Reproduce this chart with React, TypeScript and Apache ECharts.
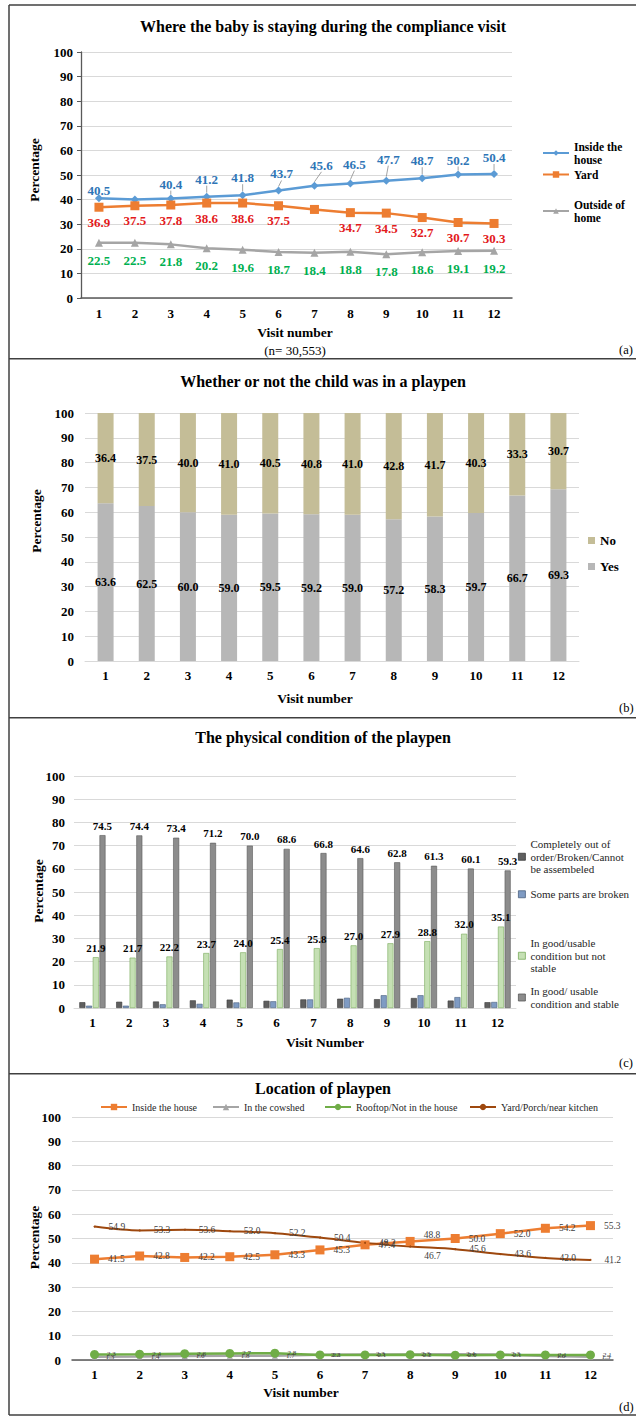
import React, { useEffect, useRef } from 'react';
import * as echarts from 'echarts';

// ---------- data ----------
const visits = ['1', '2', '3', '4', '5', '6', '7', '8', '9', '10', '11', '12'];

// (a) Where the baby is staying
const insideHouseA = [40.5, 40.0, 40.4, 41.2, 41.8, 43.7, 45.6, 46.5, 47.7, 48.7, 50.2, 50.4];
const yardA = [36.9, 37.5, 37.8, 38.6, 38.6, 37.5, 36.0, 34.7, 34.5, 32.7, 30.7, 30.3];
const outsideA = [22.5, 22.5, 21.8, 20.2, 19.6, 18.7, 18.4, 18.8, 17.8, 18.6, 19.1, 19.2];
const hiddenInsideLabel = [1];
const hiddenYardLabel = [6];

// (b) Whether or not the child was in a playpen
const playpenNo = [36.4, 37.5, 40.0, 41.0, 40.5, 40.8, 41.0, 42.8, 41.7, 40.3, 33.3, 30.7];
const playpenYes = [63.6, 62.5, 60.0, 59.0, 59.5, 59.2, 59.0, 57.2, 58.3, 59.7, 66.7, 69.3];

// (c) Physical condition of the playpen
const condBroken = [2.5, 2.7, 2.8, 3.3, 3.6, 3.1, 3.7, 4.0, 3.8, 4.3, 3.2, 2.5];
const condSomeBroken = [1.0, 1.0, 1.6, 1.8, 2.4, 2.9, 3.7, 4.4, 5.5, 5.5, 4.7, 2.6];
const condNotStable = [21.9, 21.7, 22.2, 23.7, 24.0, 25.4, 25.8, 27.0, 27.9, 28.8, 32.0, 35.1];
const condStable = [74.5, 74.4, 73.4, 71.2, 70.0, 68.6, 66.8, 64.6, 62.8, 61.3, 60.1, 59.3];

// (d) Location of playpen
const locInside = [41.5, 42.8, 42.2, 42.5, 43.3, 45.3, 47.4, 48.8, 50.0, 52.0, 54.2, 55.3];
const locCowshed = [1.3, 1.4, 1.6, 1.8, 1.7, 2.2, 2.3, 2.3, 2.4, 2.3, 1.6, 1.3];
const locRooftop = [2.3, 2.4, 2.6, 2.7, 2.8, 2.1, 2.1, 2.2, 2.0, 2.1, 2.1, 2.1];
const locYard = [54.9, 53.3, 53.6, 53.0, 52.2, 50.4, 48.2, 46.7, 45.6, 43.6, 42.0, 41.2];

// ---------- helpers ----------
const FONT = "'Liberation Serif', 'Times New Roman', Times, serif";
const BORDER = '#404040';

const text = (t: string, x: number, y: number, font: string, extra: any = {}) => ({
  type: 'text',
  x,
  y,
  rotation: extra.rotation || 0,
  silent: true,
  style: {
    text: t,
    font,
    fill: extra.fill || '#000',
    textAlign: extra.align || 'center',
    textVerticalAlign: 'middle',
    verticalAlign: 'middle',
  },
});
const line = (x1: number, y1: number, x2: number, y2: number) => ({
  type: 'line',
  silent: true,
  shape: { x1, y1, x2, y2 },
  style: { stroke: BORDER, lineWidth: 1.5 },
});

const catAxis = (margin: number, lineColor: string, lineWidth: number) => ({
  type: 'category',
  data: visits,
  boundaryGap: true,
  axisLine: { show: true, lineStyle: { color: lineColor, width: lineWidth } },
  axisTick: { show: false },
  axisLabel: { color: '#000', fontFamily: FONT, fontWeight: 'bold', fontSize: 13, margin },
});
const valAxis = (margin: number, showLine: boolean) => ({
  type: 'value',
  min: 0,
  max: 100,
  interval: 10,
  axisLine: { show: showLine, lineStyle: { color: '#595959', width: 1.3 } },
  axisTick: { show: showLine, length: 4, lineStyle: { color: '#595959' } },
  axisLabel: { color: '#000', fontFamily: FONT, fontWeight: 'bold', fontSize: 13, margin },
  splitLine: { show: true, lineStyle: { color: '#d9d9d9', width: 1 } },
});
const titleOf = (t: string, top: number) => ({
  text: t,
  left: 323,
  top,
  padding: 0,
  textAlign: 'center',
  textStyle: { fontFamily: FONT, fontWeight: 'bold', fontSize: 16, color: '#000' },
});

const withHidden = (arr: number[], hidden: number[]) =>
  arr.map((v, i) => (hidden.includes(i) ? { value: v, label: { show: false } } : v));

// ---------- panel (a) ----------
const insideDy = [3, 0, -4, -7, -7, -6, -10, -9, -11, -7, -4, -6];
const insideDx = [0, 0, 0, 0, 0, 3, 7, 4, 2, 0, 0, 0];
const legendAText = { fontFamily: FONT, fontWeight: 'bold', fontSize: 11.5, lineHeight: 13, color: '#000' };

const optionA: any = {
  animation: false,
  title: titleOf('Where the baby is staying during the compliance visit', 18),
  grid: { left: 81, top: 52, width: 431, height: 246 },
  xAxis: catAxis(8.5, '#595959', 1.5),
  yAxis: valAxis(8, true),
  legend: [
    {
      data: ['Inside the house'],
      left: 542,
      top: 140,
      padding: 0,
      itemWidth: 26,
      itemHeight: 7,
      formatter: () => 'Inside the\nhouse',
      textStyle: legendAText,
    },
    {
      data: ['Yard'],
      left: 542,
      top: 168,
      padding: 0,
      itemWidth: 26,
      itemHeight: 8,
      textStyle: legendAText,
    },
    {
      data: ['Outside of home'],
      left: 542,
      top: 198,
      padding: 0,
      itemWidth: 26,
      itemHeight: 7,
      formatter: () => 'Outside of\nhome',
      textStyle: legendAText,
    },
  ],
  series: [
    {
      name: 'Inside the house',
      type: 'line',
      data: withHidden(insideHouseA, hiddenInsideLabel),
      symbol: 'diamond',
      symbolSize: 8,
      itemStyle: { color: '#5b9bd5' },
      lineStyle: { color: '#5b9bd5', width: 2.5 },
      label: { show: true, position: 'top', distance: 0, color: '#2e75b6', fontFamily: FONT, fontWeight: 'bold', fontSize: 13, formatter: (p: any) => Number(p.value).toFixed(1) },
      labelLayout: (p: any) => ({ dx: insideDx[p.dataIndex], dy: insideDy[p.dataIndex] }),
      labelLine: { show: true, lineStyle: { color: '#8c8c8c', width: 0.8 } },
    },
    {
      name: 'Yard',
      type: 'line',
      data: withHidden(yardA, hiddenYardLabel),
      symbol: 'rect',
      symbolSize: 9,
      itemStyle: { color: '#ed7d31' },
      lineStyle: { color: '#ed7d31', width: 2.5 },
      label: { show: true, position: 'bottom', distance: 4, color: '#e31a1c', fontFamily: FONT, fontWeight: 'bold', fontSize: 13, formatter: (p: any) => Number(p.value).toFixed(1) },
    },
    {
      name: 'Outside of home',
      type: 'line',
      data: outsideA,
      symbol: 'triangle',
      symbolSize: 8,
      itemStyle: { color: '#a5a5a5' },
      lineStyle: { color: '#a5a5a5', width: 2.5 },
      label: { show: true, position: 'bottom', distance: 7, color: '#00b050', fontFamily: FONT, fontWeight: 'bold', fontSize: 13, formatter: (p: any) => Number(p.value).toFixed(1) },
    },
  ],
  graphic: [
    line(9, 5, 636, 5),
    line(9, 5, 9, 358),
    text('Percentage', 34.5, 170, `bold 13.5px ${FONT}`, { rotation: Math.PI / 2 }),
    text('Visit number', 295, 332, `bold 13.5px ${FONT}`),
    text('(n= 30,553)', 295, 350, `13px ${FONT}`),
    text('(a)', 619, 350, `12.5px ${FONT}`, { align: 'left' }),
  ],
};

// ---------- panel (b) ----------
const optionB: any = {
  animation: false,
  title: titleOf('Whether or not the child was in a playpen', 15),
  grid: { left: 85, top: 55, width: 494, height: 248 },
  xAxis: catAxis(7.5, '#d9d9d9', 1),
  yAxis: valAxis(11, false),
  legend: {
    data: ['No', 'Yes'],
    orient: 'vertical',
    left: 588,
    top: 176,
    padding: 0,
    itemGap: 13,
    itemWidth: 7,
    itemHeight: 7,
    icon: 'rect',
    textStyle: { fontFamily: FONT, fontWeight: 'bold', fontSize: 13, color: '#000' },
  },
  series: [
    {
      name: 'Yes',
      type: 'bar',
      stack: 'p',
      data: playpenYes,
      barWidth: 16,
      itemStyle: { color: '#b7b7b7' },
      label: { show: true, position: 'inside', color: '#000', fontFamily: FONT, fontWeight: 'bold', fontSize: 12, formatter: (p: any) => Number(p.value).toFixed(1) },
    },
    {
      name: 'No',
      type: 'bar',
      stack: 'p',
      data: playpenNo,
      barWidth: 16,
      itemStyle: { color: '#c4bd97' },
      label: { show: true, position: 'inside', color: '#000', fontFamily: FONT, fontWeight: 'bold', fontSize: 12, formatter: (p: any) => Number(p.value).toFixed(1) },
    },
  ],
  graphic: [
    line(9, 0.75, 636, 0.75),
    line(9, 0, 9, 359),
    text('Percentage', 36.5, 163, `bold 13.5px ${FONT}`, { rotation: Math.PI / 2 }),
    text('Visit number', 315, 340, `bold 13.5px ${FONT}`),
    text('(b)', 619, 350, `12.5px ${FONT}`, { align: 'left' }),
  ],
};

// ---------- panel (c) ----------
const legendC = (name: string, label: string, top: number, color: string, border: string) => ({
  data: [{ name, itemStyle: { color, borderColor: border, borderWidth: 0.8 } }],
  left: 518,
  top,
  padding: 0,
  itemWidth: 7,
  itemHeight: 7,
  icon: 'rect',
  formatter: () => label,
  textStyle: { fontFamily: FONT, fontSize: 11, lineHeight: 12.5, color: '#262626' },
});
const barLabel = { show: true, position: 'top', distance: 4, color: '#000', fontFamily: FONT, fontWeight: 'bold', fontSize: 11, formatter: (p: any) => Number(p.value).toFixed(1) };

const optionC: any = {
  animation: false,
  title: titleOf('The physical condition of the playpen', 12),
  grid: { left: 74, top: 59, width: 442, height: 232 },
  xAxis: catAxis(7.5, '#d9d9d9', 1),
  yAxis: valAxis(9, false),
  legend: [
    legendC('Completely out of order/Broken/Cannot be assembeled', 'Completely out of\norder/Broken/Cannot\nbe assembeled', 121, '#5f5f5f', '#3a3a3a'),
    legendC('Some parts are broken', 'Some parts are broken', 171, '#7f9bc3', '#4a5f7e'),
    legendC('In good/usable condition but not stable', 'In good/usable\ncondition but not\nstable', 220, '#c5e0b4', '#7aab5c'),
    legendC('In good/ usable condition and stable', 'In good/ usable\ncondition and stable', 268, '#8c8c8c', '#595959'),
  ],
  series: [
    {
      name: 'Completely out of order/Broken/Cannot be assembeled',
      type: 'bar',
      data: condBroken,
      barWidth: 6,
      barGap: '12%',
      itemStyle: { color: '#5f5f5f', borderColor: '#3a3a3a', borderWidth: 0.6 },
    },
    {
      name: 'Some parts are broken',
      type: 'bar',
      data: condSomeBroken,
      barWidth: 6,
      barGap: '12%',
      itemStyle: { color: '#7f9bc3', borderColor: '#4a5f7e', borderWidth: 0.6 },
    },
    {
      name: 'In good/usable condition but not stable',
      type: 'bar',
      data: condNotStable,
      barWidth: 6,
      barGap: '12%',
      itemStyle: { color: '#c5e0b4', borderColor: '#7aab5c', borderWidth: 0.6 },
      label: barLabel,
    },
    {
      name: 'In good/ usable condition and stable',
      type: 'bar',
      data: condStable,
      barWidth: 6,
      barGap: '12%',
      itemStyle: { color: '#8c8c8c', borderColor: '#595959', borderWidth: 0.6 },
      label: barLabel,
    },
  ],
  graphic: [
    line(9, 0.75, 636, 0.75),
    line(9, 0, 9, 356),
    text('Percentage', 38.5, 174, `bold 13.5px ${FONT}`, { rotation: Math.PI / 2 }),
    text('Visit Number', 325, 325, `bold 13.5px ${FONT}`),
    text('(c)', 619, 346, `12.5px ${FONT}`, { align: 'left' }),
  ],
};

// ---------- panel (d) ----------
const legendD = (name: string, left: number) => ({
  data: [name],
  left,
  top: 29,
  padding: 0,
  itemWidth: 26,
  itemHeight: 8,
  textStyle: { fontFamily: FONT, fontSize: 10, color: '#262626' },
});
const dLabel = (distance: number, fontSize: number) => ({
  show: true,
  position: 'right',
  distance,
  color: '#404040',
  fontFamily: FONT,
  fontSize,
  formatter: (p: any) => Number(p.value).toFixed(1),
});
const insideDDy = [0, 0, 0, 0, 0, 0, 0, -6, 0, 0, 0, 0];
const yardDDy = [0, 0, 0, 0, 0, 0, 0, 9, 0, 0, 0, 0];

const optionD: any = {
  animation: false,
  title: titleOf('Location of playpen', 7),
  grid: { left: 72, top: 44, width: 541, height: 243 },
  xAxis: catAxis(7.5, '#595959', 1.5),
  yAxis: valAxis(11, false),
  legend: [
    legendD('Inside the house', 100),
    legendD('In the cowshed', 212),
    legendD('Rooftop/Not in the house', 324),
    legendD('Yard/Porch/near kitchen', 469),
  ],
  series: [
    {
      name: 'Inside the house',
      type: 'line',
      data: locInside,
      symbol: 'rect',
      symbolSize: 9,
      itemStyle: { color: '#ed7d31' },
      lineStyle: { color: '#ed7d31', width: 2.5 },
      label: dLabel(9, 9.5),
      labelLayout: (p: any) => ({ dy: insideDDy[p.dataIndex] }),
    },
    {
      name: 'In the cowshed',
      type: 'line',
      data: locCowshed,
      symbol: 'triangle',
      symbolSize: 6,
      itemStyle: { color: '#a5a5a5' },
      lineStyle: { color: '#a5a5a5', width: 2.5 },
      label: dLabel(8, 7),
    },
    {
      name: 'Rooftop/Not in the house',
      type: 'line',
      data: locRooftop,
      symbol: 'circle',
      symbolSize: 9,
      itemStyle: { color: '#70ad47' },
      lineStyle: { color: '#70ad47', width: 2.5 },
      label: dLabel(8, 7),
    },
    {
      name: 'Yard/Porch/near kitchen',
      type: 'line',
      data: locYard,
      smooth: 0.3,
      symbol: 'circle',
      symbolSize: 2,
      itemStyle: { color: '#9e480e' },
      lineStyle: { color: '#9e480e', width: 2 },
      label: dLabel(13, 9.5),
      labelLayout: (p: any) => ({ dy: yardDDy[p.dataIndex] }),
    },
  ],
  graphic: [
    line(9, 0.75, 636, 0.75),
    line(9, 0, 9, 342),
    line(9, 342, 636, 342),
    text('Percentage', 34.5, 164.5, `bold 13.5px ${FONT}`, { rotation: Math.PI / 2 }),
    text('Visit number', 301, 319, `bold 13.5px ${FONT}`),
    text('(d)', 619, 334, `12.5px ${FONT}`, { align: 'left' }),
  ],
};

// ---------- components ----------
function Panel({ option, top, height }: { option: any; top: number; height: number }) {
  const ref = useRef<HTMLDivElement>(null);
  useEffect(() => {
    if (!ref.current) return;
    const chart = echarts.init(ref.current, undefined, { renderer: 'svg' });
    chart.setOption(option);
    return () => chart.dispose();
  }, [option]);
  return <div ref={ref} style={{ position: 'absolute', left: 0, top, width: 636, height }} />;
}

export default function App() {
  return (
    <div style={{ position: 'absolute', left: 0, top: 0, width: 636, height: 1418, background: '#fff', overflow: 'hidden' }}>
      <Panel option={optionA} top={0} height={358} />
      <Panel option={optionB} top={358} height={359} />
      <Panel option={optionC} top={717} height={356} />
      <Panel option={optionD} top={1073} height={345} />
    </div>
  );
}
